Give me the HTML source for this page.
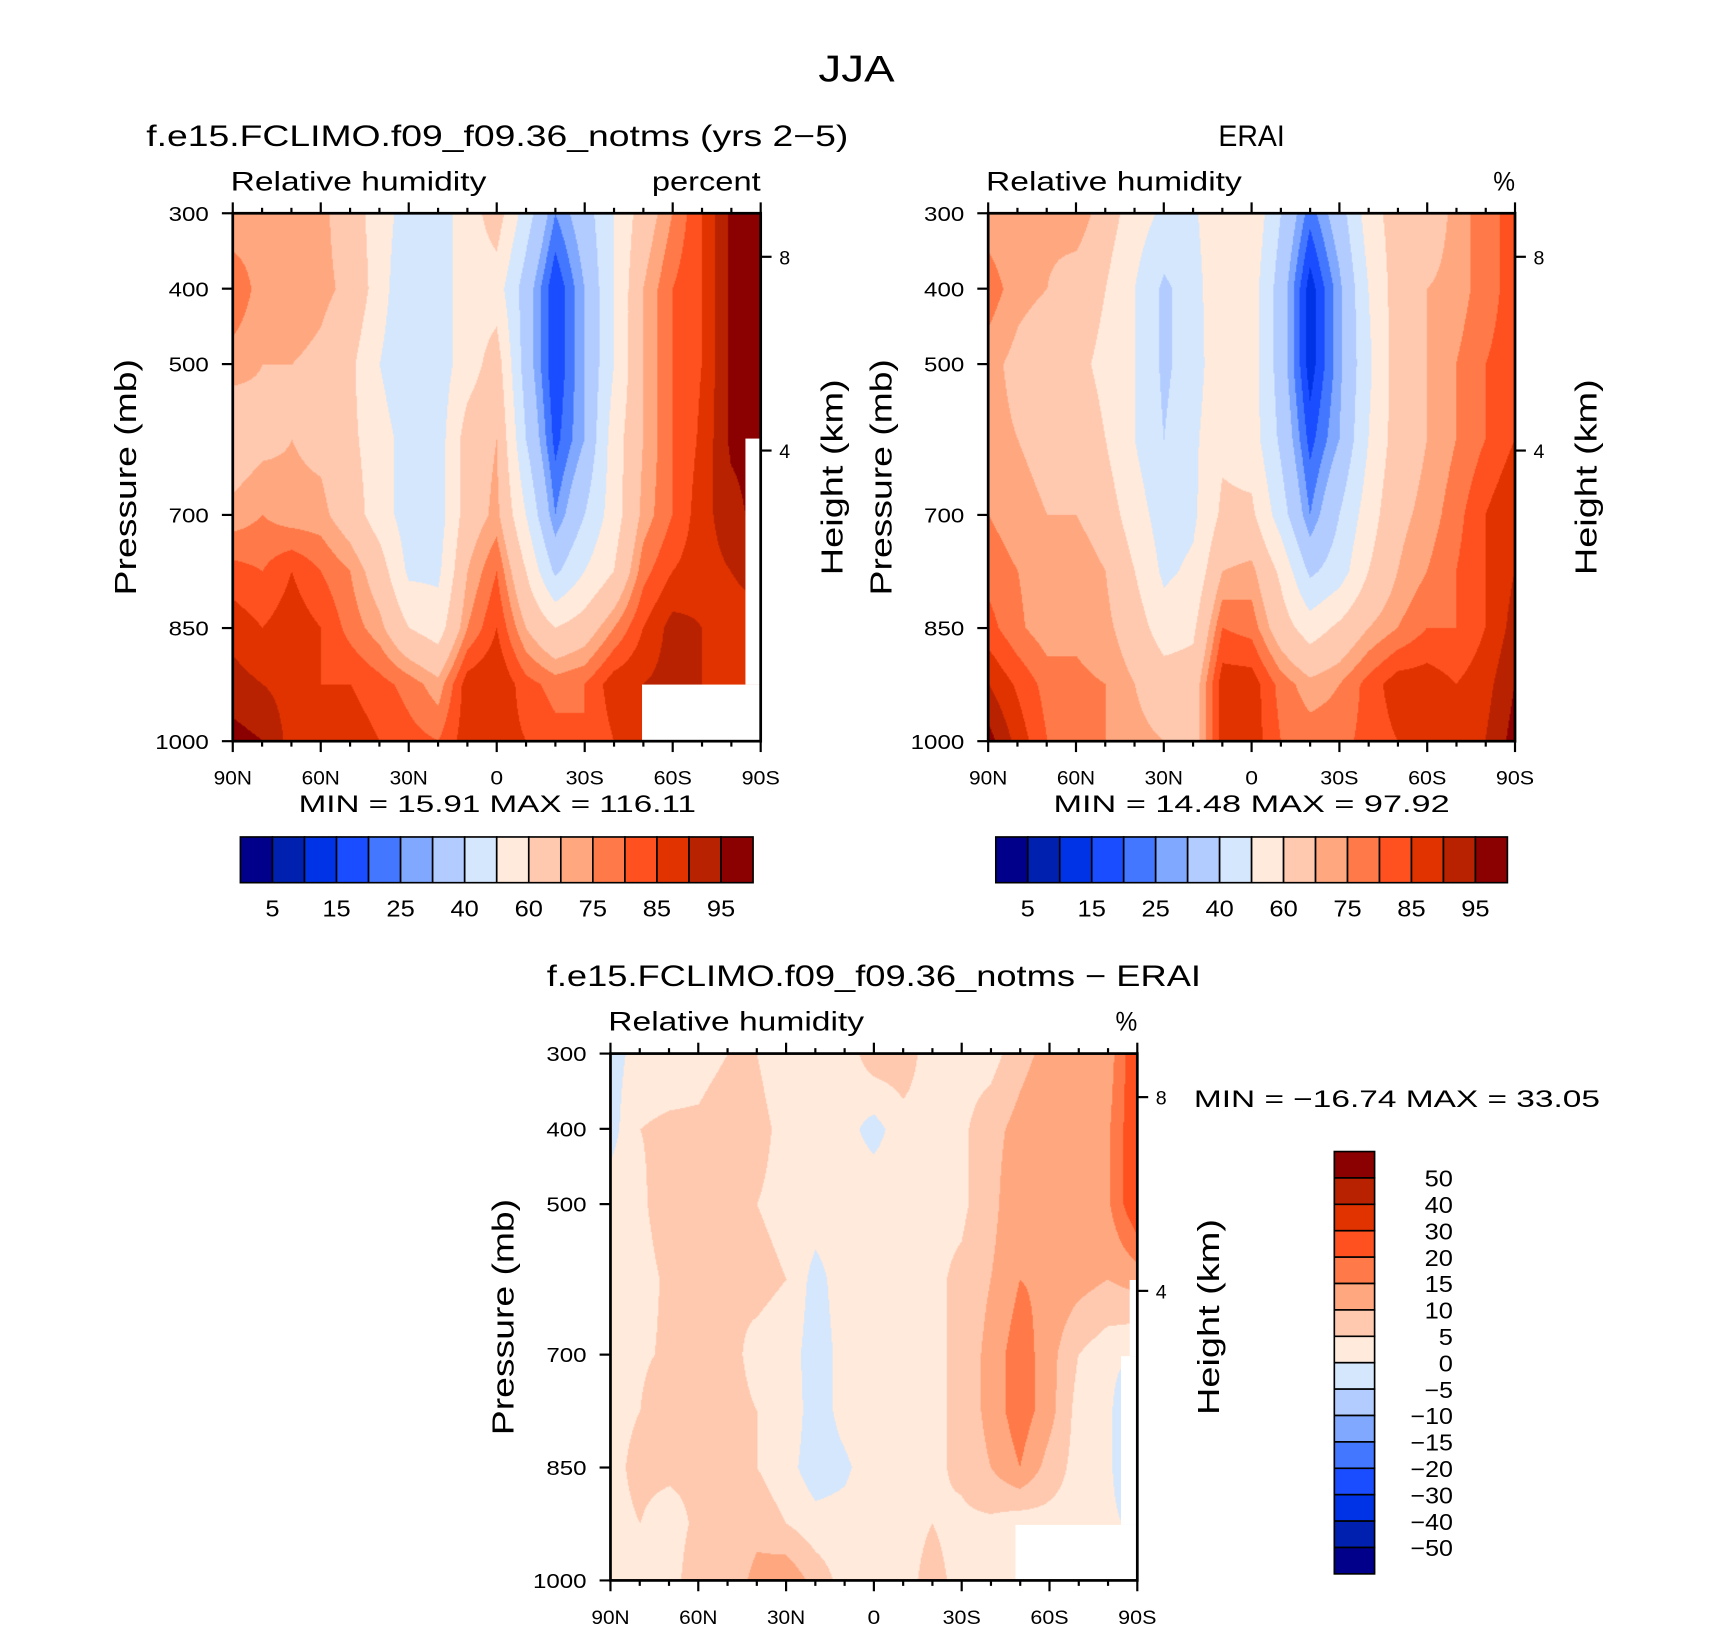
<!DOCTYPE html>
<html><head><meta charset="utf-8"><style>
html,body{margin:0;padding:0;background:#fff;overflow:hidden}
#root{position:absolute;left:0;top:0;width:1560px;height:1500px;transform:translate(2px,1px) scale(1.0885,1.0885);transform-origin:0 0}
canvas{position:absolute}
svg{position:absolute;left:0;top:0}
text{font-family:"Liberation Sans","DejaVu Sans",sans-serif;fill:#000}
</style></head><body>
<div id="root">
<canvas id="c1" width="485" height="485" style="left:212px;top:195px"></canvas>
<canvas id="c2" width="484" height="485" style="left:906px;top:195px"></canvas>
<canvas id="c3" width="484" height="484" style="left:559px;top:967px"></canvas>
<svg id="ov" width="1560" height="1500" viewBox="0 0 1560 1500"></svg>
</div>
<script>
// ---- data ----
const lats = [90,80,70,60,50,40,30,20,10,0,-10,-20,-30,-40,-50,-60,-70,-80,-90];
const pressures = [300,400,500,600,700,775,850,925,1000];
const modelRH = [
[70,72,75,72,65,55,45,45,55,65,45,25,35,50,65,75,85,96,97],
[80,72,75,72,68,55,40,45,55,55,35,15,30,50,70,80,85,96,97],
[72,70,70,68,62,50,40,45,55,65,35,15,30,50,70,80,85,96,97],
[65,68,70,68,62,55,45,45,65,70,40,18,30,55,70,80,86,96,97],
[72,75,72,72,65,55,45,45,65,72,50,25,40,55,72,80,88,93,97],
[82,80,85,80,75,65,48,48,70,80,60,38,50,60,78,85,88,90,95],
[88,85,88,85,78,72,60,55,75,85,70,60,65,75,85,92,90,85,85],
[92,90,88,85,85,82,78,72,88,90,82,78,80,88,90,92,90,88,85],
[97,95,88,85,88,85,82,80,88,88,85,82,80,85,88,90,88,88,85]];
const eraiRH = [
[72,70,72,75,65,55,48,48,60,58,40,22,35,55,65,65,72,78,82],
[78,72,70,65,60,50,38,45,60,55,35,12,28,50,65,70,72,78,82],
[72,68,65,62,58,50,38,45,58,55,35,12,28,48,65,70,75,80,82],
[72,70,68,65,60,50,40,48,58,55,38,18,30,50,65,70,75,80,85],
[75,72,70,70,65,55,45,48,62,62,45,25,40,55,68,72,78,85,90],
[78,75,72,75,70,60,48,52,70,72,58,38,45,60,70,75,80,85,90],
[82,76,72,74,72,65,55,58,80,78,65,55,62,70,75,80,80,85,92],
[90,84,78,76,75,70,65,65,88,88,78,72,75,82,88,88,85,88,95],
[97,88,80,78,75,72,70,65,88,88,80,78,78,82,85,88,88,90,97]];
const diffRH = [
[-2,2,2,3,5,5,3,3,2,8,8,2,3,3,8,12,15,12,25],
[-2,5,6,6,8,6,4,2,2,-2,3,3,4,8,12,15,10,14,25],
[3,4,8,6,6,5,4,3,3,4,3,4,4,8,15,14,12,14,25],
[3,3,6,6,5,6,5,-2,3,5,3,4,6,10,15,14,12,10,12],
[3,4,6,5,6,4,3,-3,2,5,3,4,6,12,18,12,5,2,0],
[4,5,10,6,6,5,4,-3,2,5,3,4,6,12,18,12,3,2,-10],
[4,6,6,6,6,5,2,-3,-1,3,5,4,6,10,15,8,3,2,-10],
[4,5,3,6,5,8,5,2,2,3,4,5,4,4,2,3,3,2,-2],
[5,4,3,8,6,12,14,8,3,3,4,6,4,3,2,2,2,2,2]];
const rhLevels = [5,10,15,20,25,30,40,50,60,70,75,80,85,90,95];
const rhLabels = ["5","15","25","40","60","75","85","95"];
const diffLevels = [-50,-40,-30,-20,-15,-10,-5,0,5,10,15,20,30,40,50];
const diffLabels = ["50","40","30","20","15","10","5","0","\u22125","\u221210","\u221215","\u221220","\u221230","\u221240","\u221250"];
const colors = ["#00008b","#0020b0","#0033e6","#1a4dff","#4477ff","#80a8ff","#b3ccff","#d5e7fd","#ffeadb","#ffc9b0","#ffa880","#ff7a48","#ff5020","#e03300","#b82200","#8b0000"];
const pTicks = [300,400,500,700,850,1000];
const latTickLabels = ["90N","60N","30N","0","30S","60S","90S"];

function hex(c){return [parseInt(c.substr(1,2),16),parseInt(c.substr(3,2),16),parseInt(c.substr(5,2),16)];}
const rgb = colors.map(hex);

function drawField(id, field, levels){
  const cv=document.getElementById(id), ctx=cv.getContext('2d');
  const W=cv.width,H=cv.height, img=ctx.createImageData(W,H);
  for(let y=0;y<H;y++){
    const p=300+700*y/(H-1);
    let j=0; while(j<pressures.length-2 && p>pressures[j+1]) j++;
    const ty=(p-pressures[j])/(pressures[j+1]-pressures[j]);
    for(let x=0;x<W;x++){
      const lat=90-180*x/(W-1);
      let i=0; while(i<lats.length-2 && lat<lats[i+1]) i++;
      const tx=(lats[i]-lat)/(lats[i]-lats[i+1]);
      const v=(field[j][i]*(1-tx)+field[j][i+1]*tx)*(1-ty)+(field[j+1][i]*(1-tx)+field[j+1][i+1]*tx)*ty;
      let k=0; while(k<levels.length && v>=levels[k]) k++;
      const c=rgb[k], o=(y*W+x)*4;
      img.data[o]=c[0];img.data[o+1]=c[1];img.data[o+2]=c[2];img.data[o+3]=255;
    }
  }
  ctx.putImageData(img,0,0);
}
drawField('c1',modelRH,rhLevels);
drawField('c2',eraiRH,rhLevels);
drawField('c3',diffRH,diffLevels);

const NS="http://www.w3.org/2000/svg", ov=document.getElementById('ov');
function el(tag,attrs,txt){const e=document.createElementNS(NS,tag);for(const k in attrs)e.setAttribute(k,attrs[k]);if(txt!==undefined)e.textContent=txt;ov.appendChild(e);return e;}
function txt(x,y,s,size,anchor,name,rot,len){
  const t=el('text',{x:x,y:y,'font-size':size,'text-anchor':anchor||'middle'},s);
  
  
  if(len){t.setAttribute('textLength',len);t.setAttribute('lengthAdjust','spacingAndGlyphs');}
  if(rot) t.setAttribute('transform','rotate(-90 '+x+' '+y+')');
  return t;
}
function line(x1,y1,x2,y2,w,name){
  const l=el('line',{x1:x1,y1:y1,x2:x2,y2:y2,stroke:'#000','stroke-width':w||2});
  
  
}
function rect(x,y,w,h,fill,stroke,name){
  const r=el('rect',{x:x,y:y,width:w,height:h,fill:fill,stroke:stroke||'none','stroke-width':1.5});
  
  
}

function panel(L,T,W,H,opts){
  const R=L+W,B=T+H;
  const py=p=>T+(p-300)/700*H, lx=lat=>L+(90-lat)/180*W;
  (opts.masks||[]).forEach(m=>rect(m[0],m[1],m[2],m[3],'#fff',null,'missing-data-mask'));
  rect(L,T,W,H,'none','#000','plot-frame');
  ov.lastChild.setAttribute('stroke-width',2.5);
  pTicks.forEach(p=>{line(L-10,py(p),L,py(p),2,'y-tick');txt(L-22,py(p)+7,String(p),19,'end','y-tick-label',false,String(p).length*12.3);});
  for(let lat=90;lat>=-90;lat-=10){
    const major=lat%30===0, len=major?10:5, x=lx(lat);
    line(x,B,x,B+len,2,'x-tick');line(x,T,x,T-len,2,'x-tick-top');
  }
  latTickLabels.forEach((s,i)=>txt(lx(90-30*i),B+40,s,18,'middle','x-tick-label',false,s.length*11.7));
  [[8,opts.h8],[4,opts.h4]].forEach(h=>{line(R,h[1],R+10,h[1],2,'height-tick');txt(R+17,h[1]+7,String(h[0]),18,'start','height-tick-label');});
  txt(L-89,(T+B)/2,'Pressure  (mb)',28,'middle','y-axis-title',true,217);
  txt(R+75,(T+B)/2,'Height  (km)',28,'middle','right-axis-title',true,180);
  txt(L-2,T-21,'Relative  humidity',25,'start','variable-label',false,235);
  txt(R,T-21,opts.units,25,'end','units-label',false,opts.ulen);
  txt(opts.tx,T-62,opts.title,27,'middle','panel-title',false,opts.tlen);
}
txt(785,74,'JJA',34,'middle','figure-title',false,70);
panel(212,195,485,485,{title:'f.e15.FCLIMO.f09_f09.36_notms (yrs 2\u22125)',units:'percent',ulen:100,tx:455,tlen:645,h8:235,h4:413,
  masks:[[588,628,109,52],[683,402,14,226]]});
panel(906,195,484,485,{title:'ERAI',units:'%',ulen:20,tx:1148,tlen:61,h8:235,h4:413});
panel(559,967,484,484,{title:'f.e15.FCLIMO.f09_f09.36_notms \u2212 ERAI',units:'%',ulen:20,tx:801,tlen:601,h8:1007,h4:1185,
  masks:[[931,1400,112,51],[1028,1245,15,155],[1036,1175,7,70]]});
txt(455,745,'MIN =    15.91   MAX = 116.11',22,'middle','min-max-label',false,365);
txt(1148,745,'MIN =    14.48   MAX =   97.92',22,'middle','min-max-label',false,364);
txt(1095,1016,'MIN = \u221216.74   MAX =   33.05',22,'start','min-max-label',false,373);

function hbar(L,T,W,H){
  const bw=W/colors.length;
  colors.forEach((c,i)=>rect(L+i*bw,T,bw,H,c,'#000','colorbar-box'));
  rhLabels.forEach((s,i)=>txt(L+bw*(2*i+1),T+H+31,s,21,'middle','colorbar-label',false,s.length*13));
}
hbar(219,768,471,42);
hbar(913,768,470,42);
(function(){
  const L=1224,T=1057,W=37,H=388,bh=H/colors.length;
  colors.slice().reverse().forEach((c,i)=>rect(L,T+i*bh,W,bh,c,'#000','colorbar-box'));
  diffLabels.forEach((s,i)=>txt(1333,T+bh*(i+1)+8,s,21,'end','colorbar-label',false,s.length*13));
})();
</script>
</body></html>
